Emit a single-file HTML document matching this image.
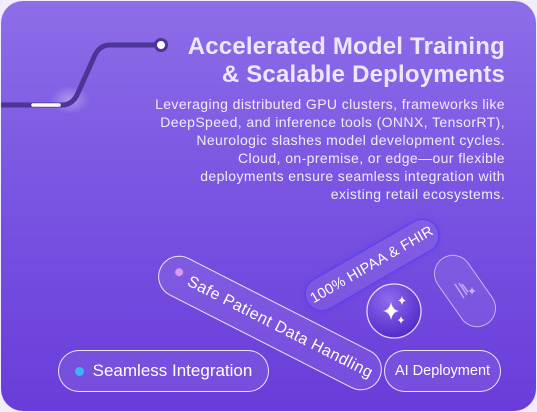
<!DOCTYPE html>
<html><head><style>
html,body{margin:0;padding:0;background:#f1eefb;}
body{width:537px;height:412px;position:relative;overflow:hidden;font-family:"Liberation Sans",sans-serif;}
.card{position:absolute;left:1px;top:1px;width:535px;height:410px;border-radius:22px;background:linear-gradient(180deg,#8d6ee8 0%,#7a55e2 45%,#6a3cda 100%);overflow:hidden;}
.t{position:absolute;right:31px;color:#ece6ff;text-align:right;white-space:nowrap;}
.h{font-weight:bold;font-size:24px;letter-spacing:0.2px;}
.p{font-size:14px;line-height:18px;top:94px;color:#f0ebff;letter-spacing:0.4px;}
.pill{position:absolute;border:1.3px solid rgba(255,255,255,0.85);border-radius:30px;background:rgba(255,255,255,0.08);color:#fff;display:flex;align-items:center;justify-content:center;box-sizing:border-box;white-space:nowrap;}
</style></head><body>
<div class="card">
<svg width="537" height="412" style="position:absolute;left:-1px;top:-1px">
<defs><radialGradient id="g" cx="0.4" cy="0.3" r="0.8"><stop offset="0" stop-color="#8f6cf0"/><stop offset="1" stop-color="#4b22c4"/></radialGradient>
<radialGradient id="gl" cx="0.5" cy="0.5" r="0.5"><stop offset="0" stop-color="#fff" stop-opacity="0.35"/><stop offset="1" stop-color="#fff" stop-opacity="0"/></radialGradient></defs>
<ellipse cx="70" cy="100" rx="20" ry="14" fill="url(#gl)"/>
<path d="M0 105 H62 Q72 105 77 95 L95 55 Q100 45 110 45 H161" fill="none" stroke="#4d3497" stroke-width="5" stroke-linecap="round"/>
<path d="M33 105 H59" stroke="#fff" stroke-width="3.5" stroke-linecap="round"/>
<circle cx="161" cy="45" r="5.5" fill="#fff" stroke="#4d3497" stroke-width="3"/>
<circle cx="394" cy="311" r="27" fill="url(#g)" stroke="rgba(255,255,255,0.8)" stroke-width="1.3"/>
<path d="M391 302 q1.5 8 8 9 q-6.5 1 -8 9 q-1.5 -8 -8 -9 q6.5 -1 8 -9z M402 296 q0.7 4 4 4.5 q-3.3 0.5 -4 4.5 q-0.7 -4 -4 -4.5 q3.3 -0.5 4 -4.5z M401 316 q0.6 3.5 3.5 4 q-2.9 0.5 -3.5 4 q-0.6 -3.5 -3.5 -4 q2.9 -0.5 3.5 -4z" fill="#fff"/>
</svg>
<div class="t h" style="top:32px">Accelerated Model Training</div>
<div class="t h" style="top:60px">&amp; Scalable Deployments</div>
<div class="t p">Leveraging distributed GPU clusters, frameworks like<br>DeepSpeed, and inference tools (ONNX, TensorRT),<br>Neurologic slashes model development cycles.<br>Cloud, on-premise, or edge—our flexible<br>deployments ensure seamless integration with<br>existing retail ecosystems.</div>
</div>
<div class="pill" style="left:58px;top:350px;width:211px;height:42px;font-size:17px;"><span style="width:9px;height:9px;border-radius:50%;background:#3fb3f5;margin-right:9px"></span>Seamless Integration</div>
<div class="pill" style="left:384px;top:350px;width:117px;height:42px;font-size:14.5px;">AI Deployment</div>
<div class="pill" style="left:147px;top:302px;width:246px;height:42px;font-size:16px;letter-spacing:0.5px;transform:rotate(27deg);justify-content:flex-start;padding-left:14px;"><span style="width:8px;height:8px;border-radius:50%;background:#d79bf2;margin-right:8px;margin-top:-8px"></span>Safe Patient Data Handling</div>
<div class="pill" style="left:297px;top:248px;width:150px;height:34px;font-size:14.5px;letter-spacing:0.3px;transform:rotate(-30deg);border:1.5px solid #5c3df2;box-shadow:0 0 4px rgba(80,60,240,0.6);">100% HIPAA &amp; FHIR</div>
<div class="pill" style="left:425px;top:272px;width:80px;height:38px;transform:rotate(55deg);border-color:rgba(255,255,255,0.55);">
<svg width="30" height="20" viewBox="0 0 30 20" style="transform:rotate(-55deg)"><path d="M5 3 L14 17 M9 2 L17 14 M12 3 L18 11" stroke="rgba(255,255,255,0.5)" stroke-width="1.5"/><path d="M22 6 q0.8 3.5 4 4 q-3.2 0.5 -4 4 q-0.8 -3.5 -4 -4 q3.2 -0.5 4 -4z" fill="rgba(255,255,255,0.55)"/></svg></div>
</body></html>
